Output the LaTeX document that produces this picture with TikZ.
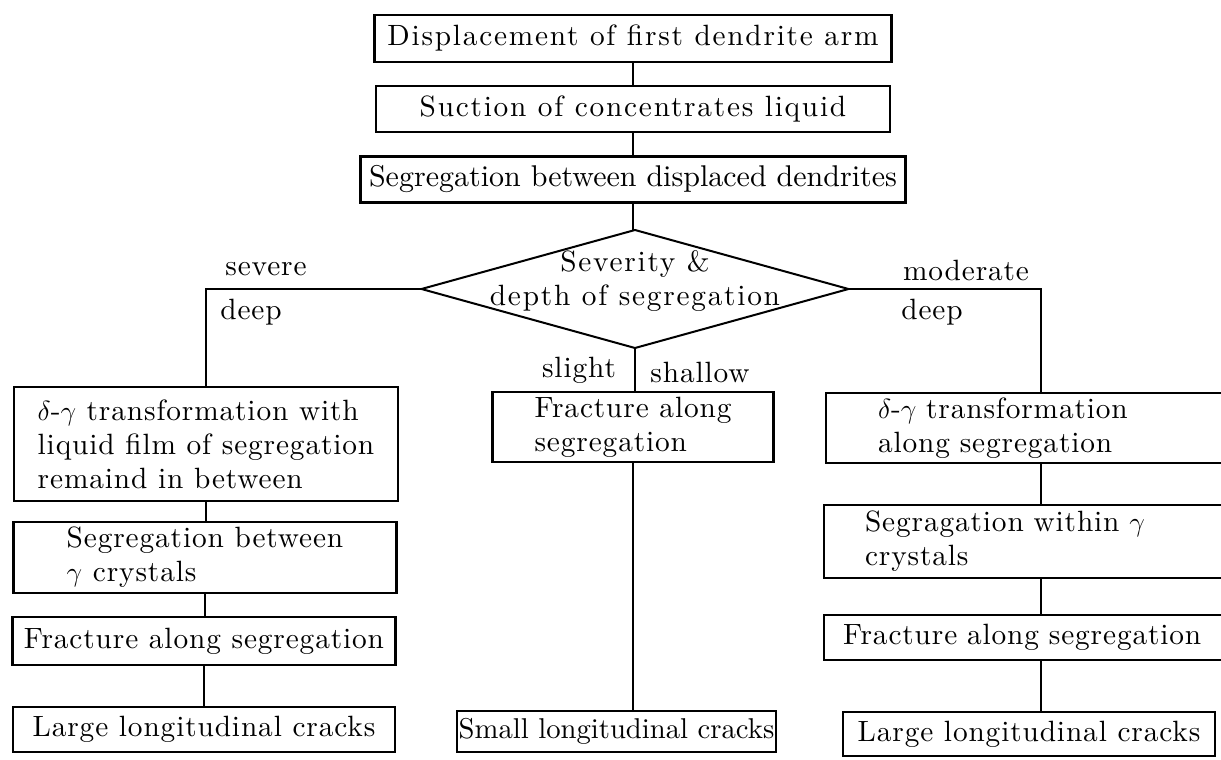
\documentclass[tikz,border=0pt]{standalone}
\usepackage{fontspec}
\usetikzlibrary{shapes.geometric}

\newfontfamily\figfam{lmroman10-regular}[Extension=.otf, LetterSpace=3]
\newfontfamily\widefam{lmroman10-regular}[Extension=.otf, LetterSpace=6]
\newfontfamily\tightfam{lmroman10-regular}[Extension=.otf]
\newcommand{\figfont}{\figfam\fontsize{22}{25.5}\selectfont}
\newcommand{\widefont}{\widefam\fontsize{22}{25.5}\selectfont}
\newcommand{\tightfont}{\tightfam\fontsize{22.5}{25}\selectfont}

\tikzset{every picture/.style={line width=0.75pt}}
\tikzset{
  stepbox/.style={draw, line width=1.6pt, inner sep=0pt, outer sep=0pt, font=\figfont, align=center},
  decision/.style={draw, diamond, line width=1.5pt, inner sep=0pt, outer sep=0pt, minimum width=320.25pt, minimum height=88.5pt},
  branch/.style={font=\figfont, inner sep=0pt},
  link/.style={line width=1.1pt}
}

\begin{document}
\begin{tikzpicture}[x=0.75pt,y=0.75pt,yscale=-1,xscale=1]
%set diagram to the size of the scan
\useasboundingbox[fill=white] (0,0) rectangle (1221,760);

%Top chain
\node [stepbox, font=\widefont, minimum width=387.75pt, minimum height=35.25pt] (disp) at (633,38.5) {Displacement of first dendrite arm};
\node [stepbox, font=\widefont, minimum width=385.5pt, minimum height=34.5pt] (suct) at (633,109) {Suction of concentrates liquid};
\node [stepbox, font=\tightfont, minimum width=408.75pt, minimum height=34.5pt] (segdd) at (633,179.5) {Segregation between displaced dendrites};

%Shape: Diamond
\node [decision] (sev) at (635,289) {};
% Text Node
\node [font=\widefont, align=center, inner sep=0pt] (sevtxt) at (635,281) {Severity \&\\depth of segregation};

%Left column (severe / deep)
\node [stepbox, align=left, minimum width=288pt, minimum height=85.5pt] (trliq) at (206,444) {$\delta$-$\gamma$ transformation with\\liquid film of segregation\\remaind in between};
\node [stepbox, align=left, minimum width=287.25pt, minimum height=53.25pt] (seggam) at (205,557.5) {Segregation between\\$\gamma$ crystals};
\node [stepbox, minimum width=287.25pt, minimum height=36pt] (fracl) at (204,641) {Fracture along segregation};
\node [stepbox, minimum width=286.5pt, minimum height=33.75pt] (largel) at (204,729.5) {Large longitudinal cracks};

%Middle column (slight / shallow)
\node [stepbox, align=left, minimum width=210.75pt, minimum height=52.5pt] (fracm) at (633,427) {Fracture along\\segregation};
\node [stepbox, font={\tightfam\fontsize{21.5}{23}\selectfont}, minimum width=239.25pt, minimum height=30.75pt] (smallm) at (616.5,731.5) {Small longitudinal cracks};

%Right column (moderate / deep)
\node [stepbox, align=left, inner xsep=39pt, text width=244.5pt, minimum height=52.5pt] (tralong) at (1041,428) {$\delta$-$\gamma$ transformation\\along segregation};
\node [stepbox, align=left, inner xsep=30.75pt, text width=264pt, minimum height=54.75pt] (segwith) at (1041,541.5) {Segragation within $\gamma$\\crystals};
\node [stepbox, align=left, inner xsep=14.25pt, text width=297pt, minimum height=33.75pt] (fracr) at (1041,637.5) {Fracture along segregation};
\node [stepbox, minimum width=279pt, minimum height=33pt] (larger) at (1029,734) {Large longitudinal cracks};

%Straight Lines
\draw [link] (disp.south) -- (suct.north);
\draw [link] (suct.south) -- (segdd.north);
\draw [link] (segdd.south) -- (segdd.south |- sev.north);
\draw [link] (sev.west) -| (trliq.north);
\draw [link] (sev.east) -| (tralong.north);
\draw [link] (sev.south) -- (sev.south |- fracm.north);
\draw [link] (trliq.south) -- (trliq.south |- seggam.north);
\draw [link] (seggam.south) -- (seggam.south |- fracl.north);
\draw [link] (fracl.south) -- (fracl.south |- largel.north);
\draw [link] (fracm.south) -- (fracm.south |- smallm.north);
\draw [link] (tralong.south) -- (segwith.north);
\draw [link] (segwith.south) -- (fracr.north);
\draw [link] (fracr.south) -- (fracr.south |- larger.north);

% Text Node
\node [branch] (severe) at (266,269) {severe};
% Text Node
\node [branch] (deepl) at (251,312) {deep};
% Text Node
\node [branch] (moder) at (966,270) {moderate};
% Text Node
\node [branch] (deepr) at (932,312) {deep};
% Text Node
\node [branch] (slight) at (579,370) {slight};
% Text Node
\node [branch] (shallow) at (700,372) {shallow};

\end{tikzpicture}
\end{document}
